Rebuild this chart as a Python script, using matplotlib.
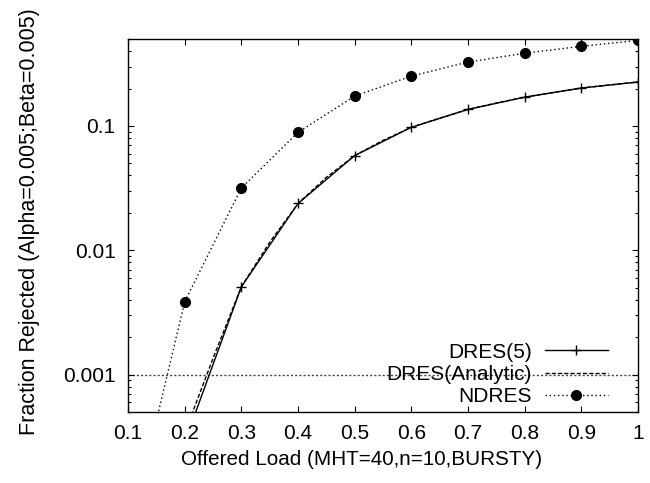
import matplotlib

matplotlib.use("Agg")
import matplotlib.pyplot as plt
from matplotlib.ticker import LogLocator, NullFormatter, FixedLocator

# offered load and fraction rejected
load = [0.2, 0.3, 0.4, 0.5, 0.6, 0.7, 0.8, 0.9, 1.0]
dres5 = [0.000286, 0.00508, 0.0238, 0.0578, 0.0976, 0.136, 0.1706, 0.202, 0.226]

load_fine = [0.2, 0.25, 0.3, 0.35, 0.4, 0.45, 0.5, 0.55, 0.6, 0.65, 0.7, 0.75, 0.8, 0.85, 0.9, 0.95, 1.0]
dres_analytic = [0.00034, 0.00135, 0.0051, 0.0116, 0.0238, 0.0386, 0.0578, 0.0766, 0.0976,
                 0.1155, 0.136, 0.153, 0.1706, 0.186, 0.202, 0.214, 0.226]

load_nd = [0.1, 0.2, 0.3, 0.4, 0.5, 0.6, 0.7, 0.8, 0.9, 1.0]
ndres = [0.000047, 0.00386, 0.0317, 0.089, 0.174, 0.252, 0.327, 0.385, 0.438, 0.488]

threshold = 0.001
xticks = [0.1, 0.2, 0.3, 0.4, 0.5, 0.6, 0.7, 0.8, 0.9, 1.0]
xticklabels = ["0.1", "0.2", "0.3", "0.4", "0.5", "0.6", "0.7", "0.8", "0.9", "1"]
yticks = [0.001, 0.01, 0.1]
yticklabels = ["0.001", "0.01", "0.1"]

plt.rcParams.update({
    "font.family": ["Liberation Sans", "DejaVu Sans"],
    "font.size": 15,
    "axes.linewidth": 1.0,
})

fig = plt.figure(figsize=(6.5, 4.83), dpi=100)
ax = fig.add_axes([0.197, 0.147, 0.7845, 0.772])

ax.axhline(threshold, color="#444444", lw=1.0, dashes=(1.5, 1.5), zorder=1)
ax.plot(load, dres5, color="black", lw=1.0, marker="+", ms=7, mew=1.0, label="DRES(5)", zorder=3)
ax.plot(load_fine, dres_analytic, color="black", lw=1.0, dashes=(3, 1.5), label="DRES(Analytic)", zorder=2)
ax.plot(load_nd, ndres, color="black", lw=1.0, dashes=(1, 2), marker="o", ms=7,
        label="NDRES", zorder=3)

ax.set_yscale("log")
ax.set_xlim(0.1, 1.0)
ax.set_ylim(0.0005, 0.5)
ax.xaxis.set_major_locator(FixedLocator(xticks))
ax.set_xticklabels(xticklabels)
ax.yaxis.set_major_locator(FixedLocator(yticks))
ax.set_yticklabels(yticklabels)
ax.yaxis.set_minor_locator(LogLocator(base=10, subs=range(2, 10)))
ax.yaxis.set_minor_formatter(NullFormatter())
ax.tick_params(which="both", direction="in", top=True, right=True)
ax.tick_params(which="major", length=4.5, width=0.8, pad=9)
ax.tick_params(which="minor", length=2.2, width=0.8)

ax.set_xlabel("Offered Load (MHT=40,n=10,BURSTY)", fontsize=14.9)
ax.set_ylabel("Fraction Rejected (Alpha=0.005;Beta=0.005)", fontsize=15.5)
ax.xaxis.set_label_coords(0.457, -0.103)
ax.yaxis.set_label_coords(-0.1725, 0.511)

ax.legend(loc="lower right", bbox_to_anchor=(0.969, -0.023), frameon=False, markerfirst=False,
          handlelength=3.0, handletextpad=0.65, labelspacing=0.15, borderpad=0.2)

fig.savefig("out.png", dpi=100)
